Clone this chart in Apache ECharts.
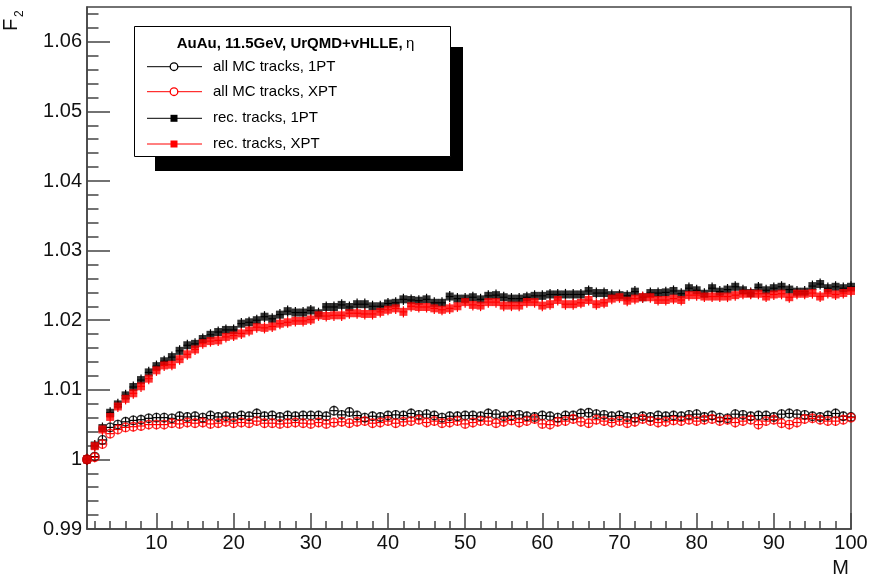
<!DOCTYPE html>
<html>
<head>
<meta charset="utf-8">
<script src="https://cdn.jsdelivr.net/npm/echarts@6/dist/echarts.min.js"></script>
<style>
  html, body { margin: 0; padding: 0; background: #fff; }
  #chart { width: 872px; height: 575px; }
</style>
</head>
<body>
<div id="chart"></div>
<script>
// Multiplicity bins M = 1..100
const multiplicity = [
  1, 2, 3, 4, 5, 6, 7, 8, 9, 10,
  11, 12, 13, 14, 15, 16, 17, 18, 19, 20,
  21, 22, 23, 24, 25, 26, 27, 28, 29, 30,
  31, 32, 33, 34, 35, 36, 37, 38, 39, 40,
  41, 42, 43, 44, 45, 46, 47, 48, 49, 50,
  51, 52, 53, 54, 55, 56, 57, 58, 59, 60,
  61, 62, 63, 64, 65, 66, 67, 68, 69, 70,
  71, 72, 73, 74, 75, 76, 77, 78, 79, 80,
  81, 82, 83, 84, 85, 86, 87, 88, 89, 90,
  91, 92, 93, 94, 95, 96, 97, 98, 99, 100
];

// F2 for all MC tracks, 1PT
const mc1PT = [
  1.0000, 1.0004, 1.0028, 1.0046, 1.0050, 1.0054, 1.0056, 1.0057, 1.0059, 1.0060,
  1.0060, 1.0059, 1.0062, 1.0061, 1.0062, 1.0060, 1.0063, 1.0061, 1.0062, 1.0061,
  1.0063, 1.0062, 1.0066, 1.0062, 1.0063, 1.0061, 1.0063, 1.0062, 1.0063, 1.0063,
  1.0063, 1.0062, 1.0070, 1.0064, 1.0068, 1.0063, 1.0060, 1.0062, 1.0061, 1.0063,
  1.0064, 1.0063, 1.0066, 1.0064, 1.0065, 1.0063, 1.0060, 1.0062, 1.0062, 1.0063,
  1.0063, 1.0062, 1.0066, 1.0065, 1.0062, 1.0063, 1.0064, 1.0062, 1.0061, 1.0063,
  1.0062, 1.0060, 1.0063, 1.0063, 1.0066, 1.0067, 1.0065, 1.0064, 1.0062, 1.0063,
  1.0061, 1.0060, 1.0062, 1.0061, 1.0063, 1.0062, 1.0063, 1.0062, 1.0064, 1.0065,
  1.0061, 1.0063, 1.0060, 1.0059, 1.0065, 1.0064, 1.0062, 1.0063, 1.0063, 1.0061,
  1.0065, 1.0066, 1.0065, 1.0064, 1.0062, 1.0061, 1.0063, 1.0066, 1.0062, 1.0061
];

// F2 for all MC tracks, XPT
const mcXPT = [
  1.0000, 1.0003, 1.0022, 1.0037, 1.0043, 1.0046, 1.0047, 1.0048, 1.0050, 1.0050,
  1.0050, 1.0052, 1.0051, 1.0053, 1.0052, 1.0053, 1.0051, 1.0052, 1.0054, 1.0052,
  1.0053, 1.0052, 1.0055, 1.0052, 1.0052, 1.0051, 1.0052, 1.0053, 1.0052, 1.0051,
  1.0053, 1.0051, 1.0053, 1.0054, 1.0052, 1.0054, 1.0055, 1.0052, 1.0053, 1.0055,
  1.0052, 1.0054, 1.0055, 1.0057, 1.0053, 1.0055, 1.0052, 1.0053, 1.0055, 1.0051,
  1.0053, 1.0055, 1.0055, 1.0052, 1.0054, 1.0056, 1.0053, 1.0055, 1.0058, 1.0051,
  1.0050, 1.0054, 1.0055, 1.0058, 1.0054, 1.0052, 1.0057, 1.0055, 1.0053, 1.0055,
  1.0052, 1.0054, 1.0058, 1.0055, 1.0053, 1.0054, 1.0056, 1.0055, 1.0057, 1.0055,
  1.0057, 1.0058, 1.0055, 1.0057, 1.0053, 1.0055, 1.0057, 1.0050, 1.0055, 1.0057,
  1.0052, 1.0050, 1.0053, 1.0058, 1.0059, 1.0057, 1.0055, 1.0055, 1.0057, 1.0060
];

// F2 for reconstructed tracks, 1PT
const rec1PT = [
  1.0000, 1.0020, 1.0045, 1.0067, 1.0079, 1.0092, 1.0104, 1.0114, 1.0125, 1.0134,
  1.0141, 1.0147, 1.0156, 1.0164, 1.0166, 1.0173, 1.0179, 1.0183, 1.0186, 1.0186,
  1.0195, 1.0197, 1.0200, 1.0205, 1.0202, 1.0208, 1.0213, 1.0211, 1.0211, 1.0214,
  1.0210, 1.0219, 1.0219, 1.0222, 1.0219, 1.0223, 1.0223, 1.0220, 1.0220, 1.0224,
  1.0225, 1.0230, 1.0229, 1.0228, 1.0230, 1.0225, 1.0225, 1.0234, 1.0231, 1.0231,
  1.0233, 1.0230, 1.0235, 1.0236, 1.0233, 1.0231, 1.0231, 1.0233, 1.0235, 1.0235,
  1.0237, 1.0237, 1.0237, 1.0237, 1.0237, 1.0242, 1.0239, 1.0239, 1.0236, 1.0236,
  1.0235, 1.0241, 1.0233, 1.0239, 1.0239, 1.0240, 1.0242, 1.0238, 1.0246, 1.0243,
  1.0238, 1.0246, 1.0241, 1.0244, 1.0248, 1.0243, 1.0239, 1.0247, 1.0243, 1.0246,
  1.0248, 1.0244, 1.0241, 1.0241, 1.0249, 1.0252, 1.0246, 1.0248, 1.0246, 1.0248
];

// F2 for reconstructed tracks, XPT
const recXPT = [
  1.0000, 1.0019, 1.0043, 1.0061, 1.0076, 1.0087, 1.0095, 1.0105, 1.0116, 1.0128,
  1.0135, 1.0136, 1.0144, 1.0151, 1.0158, 1.0167, 1.0170, 1.0171, 1.0176, 1.0178,
  1.0181, 1.0185, 1.0190, 1.0189, 1.0191, 1.0195, 1.0197, 1.0199, 1.0199, 1.0201,
  1.0207, 1.0206, 1.0207, 1.0207, 1.0210, 1.0210, 1.0209, 1.0209, 1.0212, 1.0215,
  1.0217, 1.0212, 1.0220, 1.0219, 1.0219, 1.0217, 1.0215, 1.0217, 1.0220, 1.0226,
  1.0222, 1.0221, 1.0226, 1.0226, 1.0221, 1.0221, 1.0221, 1.0226, 1.0226, 1.0221,
  1.0223, 1.0229, 1.0223, 1.0223, 1.0225, 1.0229, 1.0223, 1.0225, 1.0231, 1.0233,
  1.0228, 1.0231, 1.0233, 1.0233, 1.0229, 1.0229, 1.0231, 1.0229, 1.0236, 1.0236,
  1.0234, 1.0234, 1.0234, 1.0234, 1.0236, 1.0238, 1.0238, 1.0238, 1.0234, 1.0237,
  1.0238, 1.0233, 1.0238, 1.0238, 1.0239, 1.0234, 1.0239, 1.0237, 1.0239, 1.0242
];

// Statistical uncertainty of F2 per bin
const errMC = 0.0007;
const errRec = 0.0008;

// Axis tick positions
const xMajorTicks = [10, 20, 30, 40, 50, 60, 70, 80, 90, 100];
const xMinorTicks = [2, 4, 6, 8, 12, 14, 16, 18, 22, 24, 26, 28, 32, 34, 36, 38,
  42, 44, 46, 48, 52, 54, 56, 58, 62, 64, 66, 68, 72, 74, 76, 78,
  82, 84, 86, 88, 92, 94, 96, 98];
const yMajorTicks = [0.99, 1.00, 1.01, 1.02, 1.03, 1.04, 1.05, 1.06];
const yMinorTicks = [0.992, 0.994, 0.996, 0.998, 1.002, 1.004, 1.006, 1.008,
  1.012, 1.014, 1.016, 1.018, 1.022, 1.024, 1.026, 1.028,
  1.032, 1.034, 1.036, 1.038, 1.042, 1.044, 1.046, 1.048,
  1.052, 1.054, 1.056, 1.058, 1.062, 1.064];

const legendTitle = 'AuAu, 11.5GeV, UrQMD+vHLLE,';
const seriesNames = ['all MC tracks, 1PT', 'all MC tracks, XPT', 'rec. tracks, 1PT', 'rec. tracks, XPT'];

const FONT = '"Liberation Sans", Arial, Helvetica, sans-serif';
const AXIS_COLOR = '#444';
const TEXT_COLOR = '#111';

const seriesDefs = [
  { name: seriesNames[0], values: mc1PT, err: errMC, color: '#000000', marker: 'openCircle' },
  { name: seriesNames[1], values: mcXPT, err: errMC, color: '#ff0000', marker: 'openCircle' },
  { name: seriesNames[2], values: rec1PT, err: errRec, color: '#000000', marker: 'square' },
  { name: seriesNames[3], values: recXPT, err: errRec, color: '#ff0000', marker: 'square' }
];

function errorBarRenderer(color, err) {
  return function (params, api) {
    const m = api.value(0);
    const f = api.value(1);
    const c = api.coord([m, f]);
    const hi = api.coord([m, f + err]);
    const lo = api.coord([m, f - err]);
    const left = api.coord([m - 0.5, f]);
    const right = api.coord([m + 0.5, f]);
    const st = { stroke: color, lineWidth: 1.2 };
    return {
      type: 'group',
      children: [
        { type: 'line', shape: { x1: c[0], y1: hi[1], x2: c[0], y2: lo[1] }, style: st },
        { type: 'line', shape: { x1: left[0], y1: c[1], x2: right[0], y2: c[1] }, style: st }
      ]
    };
  };
}

const series = [];
seriesDefs.forEach(function (d) {
  const pts = multiplicity.map(function (m, i) { return [m, d.values[i]]; });
  series.push({
    type: 'custom',
    name: d.name + ' err',
    xAxisIndex: 0, yAxisIndex: 0,
    renderItem: errorBarRenderer(d.color, d.err),
    data: pts,
    silent: true
  });
  const open = d.marker === 'openCircle';
  series.push({
    type: 'scatter',
    name: d.name,
    xAxisIndex: 0, yAxisIndex: 0,
    data: pts,
    symbol: open ? 'circle' : 'rect',
    symbolSize: open ? 8.5 : 8,
    clip: false,
    itemStyle: open
      ? { color: 'rgba(255,255,255,0)', borderColor: d.color, borderWidth: 1.4 }
      : { color: d.color },
    silent: true
  });
});

// Legend box with drop shadow
const legendRows = [66.7, 91.7, 118.3, 144];
const legendGraphics = [
  { type: 'rect', shape: { x: 155, y: 47, width: 308, height: 124 }, style: { fill: '#000' }, z: 100 },
  { type: 'rect', shape: { x: 134.5, y: 26.5, width: 316, height: 130 }, style: { fill: '#fff', stroke: '#000', lineWidth: 1 }, z: 101 },
  {
    type: 'text', x: 295.5, y: 43.5, z: 102,
    style: {
      text: '{b|' + legendTitle + '} {g|η}',
      align: 'center', verticalAlign: 'middle',
      rich: {
        b: { font: 'bold 15px ' + FONT, fill: '#000' },
        g: { font: '15px ' + FONT, fill: '#000' }
      }
    }
  }
];
seriesDefs.forEach(function (d, i) {
  const y = legendRows[i];
  legendGraphics.push({ type: 'line', z: 102, shape: { x1: 147, y1: y, x2: 202, y2: y }, style: { stroke: d.color, lineWidth: 1 } });
  if (d.marker === 'openCircle') {
    legendGraphics.push({ type: 'circle', z: 103, shape: { cx: 174, cy: y, r: 3.8 }, style: { fill: '#fff', stroke: d.color, lineWidth: 1.3 } });
  } else {
    legendGraphics.push({ type: 'rect', z: 103, shape: { x: 170.5, y: y - 3.5, width: 7, height: 7 }, style: { fill: d.color } });
  }
  legendGraphics.push({
    type: 'text', z: 102, x: 213, y: y,
    style: { text: d.name, font: '15px ' + FONT, fill: '#000', verticalAlign: 'middle' }
  });
});

// Axis titles
const axisTitleGraphics = [
  { type: 'text', x: 849, y: 558, style: { text: 'M', font: '20px ' + FONT, fill: TEXT_COLOR, align: 'right', verticalAlign: 'top' } },
  { type: 'text', x: 21, y: 31, rotation: Math.PI / 2, style: { text: 'F', font: '20px ' + FONT, fill: TEXT_COLOR, align: 'left', verticalAlign: 'bottom' } },
  { type: 'text', x: 26, y: 17, rotation: Math.PI / 2, style: { text: '2', font: '12px ' + FONT, fill: TEXT_COLOR, align: 'left', verticalAlign: 'bottom' } }
];

const yFmt = function (v) { return String(parseFloat(Number(v).toFixed(3))); };

const option = {
  animation: false,
  backgroundColor: '#fff',
  grid: {
    left: 87, right: 21, top: 7, bottom: 46,
    show: true, borderColor: AXIS_COLOR, borderWidth: 1.5, backgroundColor: 'transparent'
  },
  xAxis: [
    {
      type: 'value', min: 1, max: 100, position: 'bottom',
      axisLine: { show: true, lineStyle: { color: AXIS_COLOR, width: 1.5 } },
      axisTick: { show: true, inside: true, length: 16, customValues: xMajorTicks, lineStyle: { color: AXIS_COLOR, width: 1.5 } },
      axisLabel: { customValues: xMajorTicks, fontSize: 20, fontFamily: FONT, color: TEXT_COLOR, margin: 4 },
      splitLine: { show: false }
    },
    {
      type: 'value', min: 1, max: 100, position: 'bottom',
      axisLine: { show: false },
      axisTick: { show: true, inside: true, length: 8, customValues: xMinorTicks, lineStyle: { color: AXIS_COLOR, width: 1.5 } },
      axisLabel: { show: false },
      splitLine: { show: false }
    }
  ],
  yAxis: [
    {
      type: 'value', min: 0.99, max: 1.065, position: 'left',
      axisLine: { show: true, lineStyle: { color: AXIS_COLOR, width: 1.5 } },
      axisTick: { show: true, inside: true, length: 23, customValues: yMajorTicks, lineStyle: { color: AXIS_COLOR, width: 1.5 } },
      axisLabel: { customValues: yMajorTicks, formatter: yFmt, fontSize: 20, fontFamily: FONT, color: TEXT_COLOR, margin: 5 },
      splitLine: { show: false }
    },
    {
      type: 'value', min: 0.99, max: 1.065, position: 'left',
      axisLine: { show: false },
      axisTick: { show: true, inside: true, length: 11.5, customValues: yMinorTicks, lineStyle: { color: AXIS_COLOR, width: 1.5 } },
      axisLabel: { show: false },
      splitLine: { show: false }
    }
  ],
  series: series,
  graphic: legendGraphics.concat(axisTitleGraphics)
};

const chart = echarts.init(document.getElementById('chart'), null, { renderer: 'canvas' });
chart.setOption(option);
</script>
</body>
</html>
